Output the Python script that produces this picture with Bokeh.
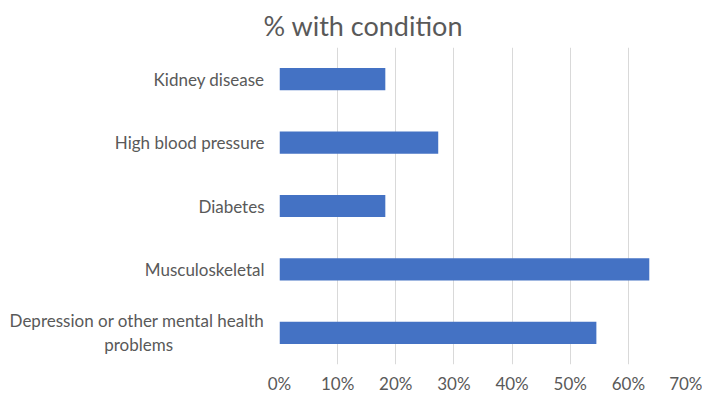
from bokeh.plotting import figure
from bokeh.models import Range1d, FactorRange, FixedTicker, PrintfTickFormatter
from bokeh.embed import file_html
from bokeh.resources import INLINE

NBSP = "\u00a0"
conditions = ["Depression or other mental health\nproblems" + NBSP * 21, "Musculoskeletal",
              "Diabetes", "High blood pressure", "Kidney disease"]
pct_with_condition = [54.5, 63.6, 18.2, 27.3, 18.2]
x_ticks = [0, 10, 20, 30, 40, 50, 60, 70]

FONT = "Lato"
GREY = "#595959"

p = figure(width=702, height=396, output_backend="svg", toolbar_location=None,
           y_range=FactorRange(*conditions), x_range=Range1d(0, 70),
           title="% with condition",
           min_border_left=279, min_border_right=16, min_border_top=46, min_border_bottom=26)

p.hbar(y=conditions, right=pct_with_condition, left=0, height=0.35, color="#4472C4",
       line_color=None)

p.title.align = "left"
p.title.offset = -16
p.title.standoff = 12
p.title.text_font = FONT
p.title.text_font_size = "27px"
p.title.text_font_style = "normal"
p.title.text_color = GREY

p.outline_line_color = None
p.ygrid.grid_line_color = None
p.xgrid.grid_line_color = "#d9d9d9"
p.xgrid.grid_line_width = 1

p.xaxis.ticker = FixedTicker(ticks=x_ticks)
p.xaxis.formatter = PrintfTickFormatter(format="%d%%")
for ax in (p.xaxis[0], p.yaxis[0]):
    ax.axis_line_color = None
    ax.major_tick_line_color = None
    ax.minor_tick_line_color = None
    ax.major_label_text_font = FONT
    ax.major_label_text_font_size = "17px"
    ax.major_label_text_color = GREY
p.yaxis.major_label_text_line_height = 1.15
p.xaxis.major_label_standoff = 2
p.yaxis.major_label_standoff = 9

open("out.html", "w").write(file_html(p, INLINE))
